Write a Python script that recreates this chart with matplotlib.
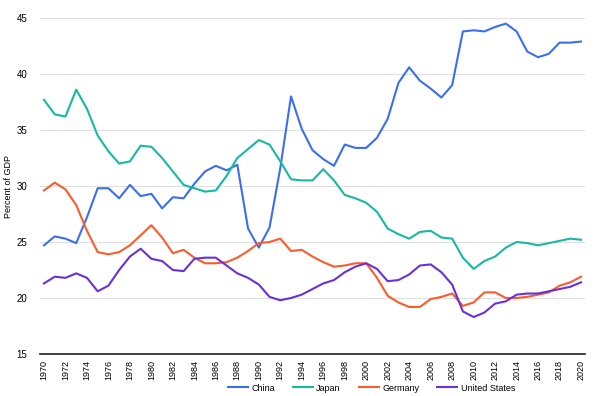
import matplotlib.pyplot as plt
import numpy as np

plt.rcParams['font.family'] = ['Liberation Sans', 'DejaVu Sans']

years = list(range(1970, 2021))

china = [24.7, 25.5, 25.3, 24.9, 27.2, 29.8, 29.8, 28.9, 30.1, 29.1,
         29.3, 28.0, 29.0, 28.9, 30.2, 31.3, 31.8, 31.4, 31.9, 26.2,
         24.5, 26.3, 31.6, 38.0, 35.1, 33.2, 32.4, 31.8, 33.7, 33.4,
         33.4, 34.3, 36.0, 39.2, 40.6, 39.4, 38.7, 37.9, 39.0, 43.8,
         43.9, 43.8, 44.2, 44.5, 43.8, 42.0, 41.5, 41.8, 42.8, 42.8, 42.9]

japan = [37.7, 36.4, 36.2, 38.6, 36.9, 34.5, 33.1, 32.0, 32.2, 33.6,
         33.5, 32.5, 31.3, 30.1, 29.8, 29.5, 29.6, 30.9, 32.5, 33.3,
         34.1, 33.7, 32.2, 30.6, 30.5, 30.5, 31.5, 30.5, 29.2, 28.9,
         28.5, 27.7, 26.2, 25.7, 25.3, 25.9, 26.0, 25.4, 25.3, 23.6,
         22.6, 23.3, 23.7, 24.5, 25.0, 24.9, 24.7, 24.9, 25.1, 25.3, 25.2]

germany = [29.6, 30.3, 29.7, 28.3, 26.0, 24.1, 23.9, 24.1, 24.7, 25.6,
           26.5, 25.4, 24.0, 24.3, 23.6, 23.1, 23.1, 23.2, 23.6, 24.2,
           24.9, 25.0, 25.3, 24.2, 24.3, 23.7, 23.2, 22.8, 22.9, 23.1,
           23.1, 21.8, 20.2, 19.6, 19.2, 19.2, 19.9, 20.1, 20.4, 19.3,
           19.6, 20.5, 20.5, 20.0, 20.0, 20.1, 20.3, 20.5, 21.1, 21.4, 21.9]

united_states = [21.3, 21.9, 21.8, 22.2, 21.8, 20.6, 21.1, 22.5, 23.7, 24.4,
                 23.5, 23.3, 22.5, 22.4, 23.5, 23.6, 23.6, 22.9, 22.2, 21.8,
                 21.2, 20.1, 19.8, 20.0, 20.3, 20.8, 21.3, 21.6, 22.3, 22.8,
                 23.1, 22.6, 21.5, 21.6, 22.1, 22.9, 23.0, 22.3, 21.2, 18.8,
                 18.3, 18.7, 19.5, 19.7, 20.3, 20.4, 20.4, 20.6, 20.8, 21.0, 21.4]

fig = plt.figure(figsize=(6.04, 3.96), dpi=100)
ax = fig.add_axes([40 / 604, 1 - 354 / 396, 545 / 604, 336 / 396])

ax.plot(years, china, color='#3b6ef0', lw=1.5, label='China')
ax.plot(years, japan, color='#17b9a5', lw=1.5, label='Japan')
ax.plot(years, germany, color='#fc5c2c', lw=1.5, label='Germany')
ax.plot(years, united_states, color='#6a30d9', lw=1.5, label='United States')

ax.set_xlim(1969.63, 2020.37)
ax.set_ylim(15, 45)
ax.set_yticks([15, 20, 25, 30, 35, 40, 45])
ax.set_xticks(years[::2])
ax.set_xticklabels([str(y) for y in years[::2]], rotation=90, fontsize=6.5)
ax.tick_params(axis='y', labelsize=7, length=0, pad=9)
ax.tick_params(axis='x', length=0, pad=4)
ax.grid(axis='y', color='#e0e0e0', lw=0.8)
ax.set_axisbelow(True)
for s in ['top', 'right', 'left']:
    ax.spines[s].set_visible(False)
ax.spines['bottom'].set_color('#222222')
ax.spines['bottom'].set_linewidth(1.2)
ax.set_ylabel('Percent of GDP', fontsize=6.5, labelpad=3)

fig.legend(loc='lower center', bbox_to_anchor=(0.615, -0.012), ncol=4,
           frameon=False, fontsize=6.5, handlelength=2.2, handletextpad=0.4,
           columnspacing=2.0)

fig.savefig('out.png', dpi=100)
